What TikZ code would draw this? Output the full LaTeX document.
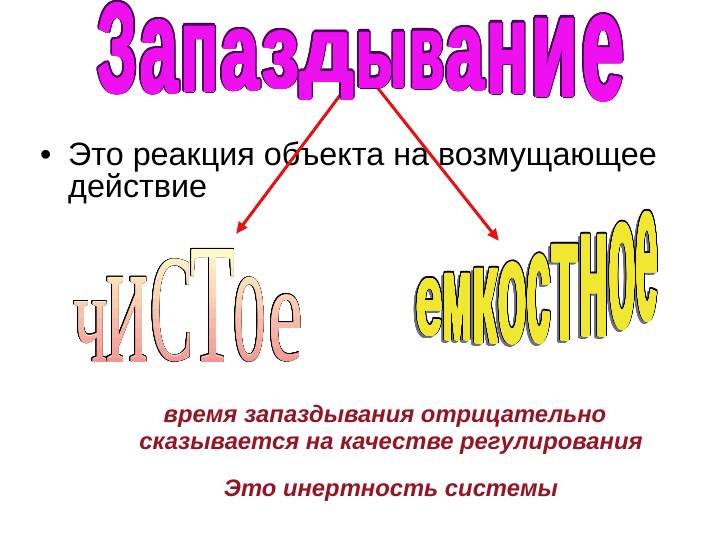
\documentclass[tikz,border=0pt]{standalone}
\usepackage{fontspec}
\setmainfont{Liberation Sans}
\newfontfamily\serifw{Liberation Serif}
\usepackage{graphicx}
\usepackage{contour}
\usetikzlibrary{arrows.meta}
\definecolor{titfill}{RGB}{238,16,238}
\definecolor{titout}{RGB}{70,0,90}
\definecolor{emfill}{RGB}{240,232,48}
\definecolor{emshadow}{RGB}{110,110,130}
\definecolor{chtop}{RGB}{255,248,200}
\definecolor{chbot}{RGB}{244,150,150}
\definecolor{arr}{RGB}{232,16,16}
\definecolor{txtred}{RGB}{150,20,35}
\contournumber{24}
\newcommand\wfont{}
\newcommand\wwrap[1]{#1}
\def\ltrc{black}
\tikzset{ltr/.style={anchor=south west,inner sep=0pt,outer sep=0pt,text=\ltrc},
  redarrow/.style={draw=arr,line width=3pt,-{Triangle[length=12pt,width=10pt]}},
  bodytext/.style={anchor=base west,inner sep=0pt,font=\fontsize{32.3}{36}\selectfont},
  redtext/.style={anchor=base,inner sep=0pt,text=txtred,font=\fontsize{23.8}{28}\selectfont\bfseries\itshape}}
\newcommand\ltr[5]{\node[ltr] at (#1,#4) {\wwrap{\resizebox*{\dimexpr #2pt-#1pt\relax}{\dimexpr #4pt-#3pt\relax}{\wfont #5}}};}
\newcommand\titleletters{%
  \ltr{98}{137}{5}{95}{З}\ltr{140}{178}{22}{95}{а}\ltr{181}{218}{28}{93}{п}%
  \ltr{221}{259}{32}{92}{а}\ltr{262}{299}{33}{90}{з}\ltr{300}{354}{35}{100}{д}%
  \ltr{356}{407}{34}{89}{ы}\ltr{410}{444}{33}{90}{в}\ltr{446}{484}{30}{92}{а}%
  \ltr{487}{528}{25}{95}{н}\ltr{531}{578}{20}{98}{и}\ltr{582}{624}{17}{102}{е}}
\newcommand\emletters{%
  \ltr{416}{443}{280}{337}{е}\ltr{443}{472}{275}{341}{м}\ltr{472}{498}{270}{344}{к}%
  \ltr{498}{527}{264}{345}{о}\ltr{527}{551}{256}{344}{с}\ltr{551}{579}{246}{341}{т}%
  \ltr{579}{609}{236}{337}{н}\ltr{609}{636}{224}{330}{о}\ltr{636}{658}{213}{322}{е}}
\newcommand\chletters{%
  \ltr{73}{108}{302}{362}{ч}\ltr{106}{148}{278}{362}{и}\ltr{150}{193}{260}{362}{С}%
  \ltr{190}{235}{250}{362}{Т}\ltr{233}{266}{278}{362}{о}\ltr{268}{303}{295}{362}{е}}
\begin{document}
\begin{tikzpicture}[x=1pt,y=-1pt]
\fill[white] (0,0) rectangle (720,540);
\useasboundingbox (0,0) rectangle (720,540);
% bullet text
\node[bodytext] (bul) at (40,166) {•};
\node[bodytext] (l1) at (68,166) {Это реакция объекта на возмущающее};
\node[bodytext] (l2) at (68,198) {действие};
% arrows
\coordinate (s1) at (347,86);
\coordinate (e1) at (236,234);
\coordinate (s2) at (377,87);
\coordinate (e2) at (499,241);
\draw[redarrow] (s1) -- (e1);
\draw[redarrow] (s2) -- (e2);
% title: outline pass, then thickened fill pass
\renewcommand\wfont{\bfseries}
\contourlength{2.2pt}
\renewcommand\wwrap[1]{\contour{titout}{#1}}
\def\ltrc{titout}
\titleletters
\contourlength{1pt}
\renewcommand\wwrap[1]{\contour{titfill}{#1}}
\def\ltrc{titfill}
\titleletters
% емкостное
\renewcommand\wwrap[1]{#1}
\contourlength{0.8pt}
\renewcommand\wwrap[1]{\contour{emshadow}{#1}}
\def\ltrc{emshadow}
\begin{scope}[shift={(-2.5,2)}]
\emletters
\end{scope}
\contourlength{1.8pt}
\renewcommand\wwrap[1]{\contour{black}{#1}}
\def\ltrc{black}
\emletters
\contourlength{0.8pt}
\renewcommand\wwrap[1]{\contour{emfill}{#1}}
\def\ltrc{emfill}
\emletters
% чистое
\renewcommand\wfont{\serifw}
\contourlength{0.6pt}
\renewcommand\wwrap[1]{\contour{black}{#1}}
\def\ltrc{chtop}
\chletters
\renewcommand\wwrap[1]{#1}
\foreach \i in {0,...,11}{
  \pgfmathtruncatemacro\p{round(\i*100/11)}
  \colorlet{cur}{chbot!\p!chtop}
  \def\ltrc{cur}
  \begin{scope}
    \clip (60,248+\i*10) rectangle (320,258+\i*10);
    \chletters
  \end{scope}
}
% bottom text
\node[redtext] (r1) at (385,422) {время запаздывания отрицательно};
\node[redtext] (r2) at (391,449) {сказывается на качестве регулирования};
\node[redtext] (r3) at (391,496) {Это инертность системы};
\end{tikzpicture}
\end{document}
